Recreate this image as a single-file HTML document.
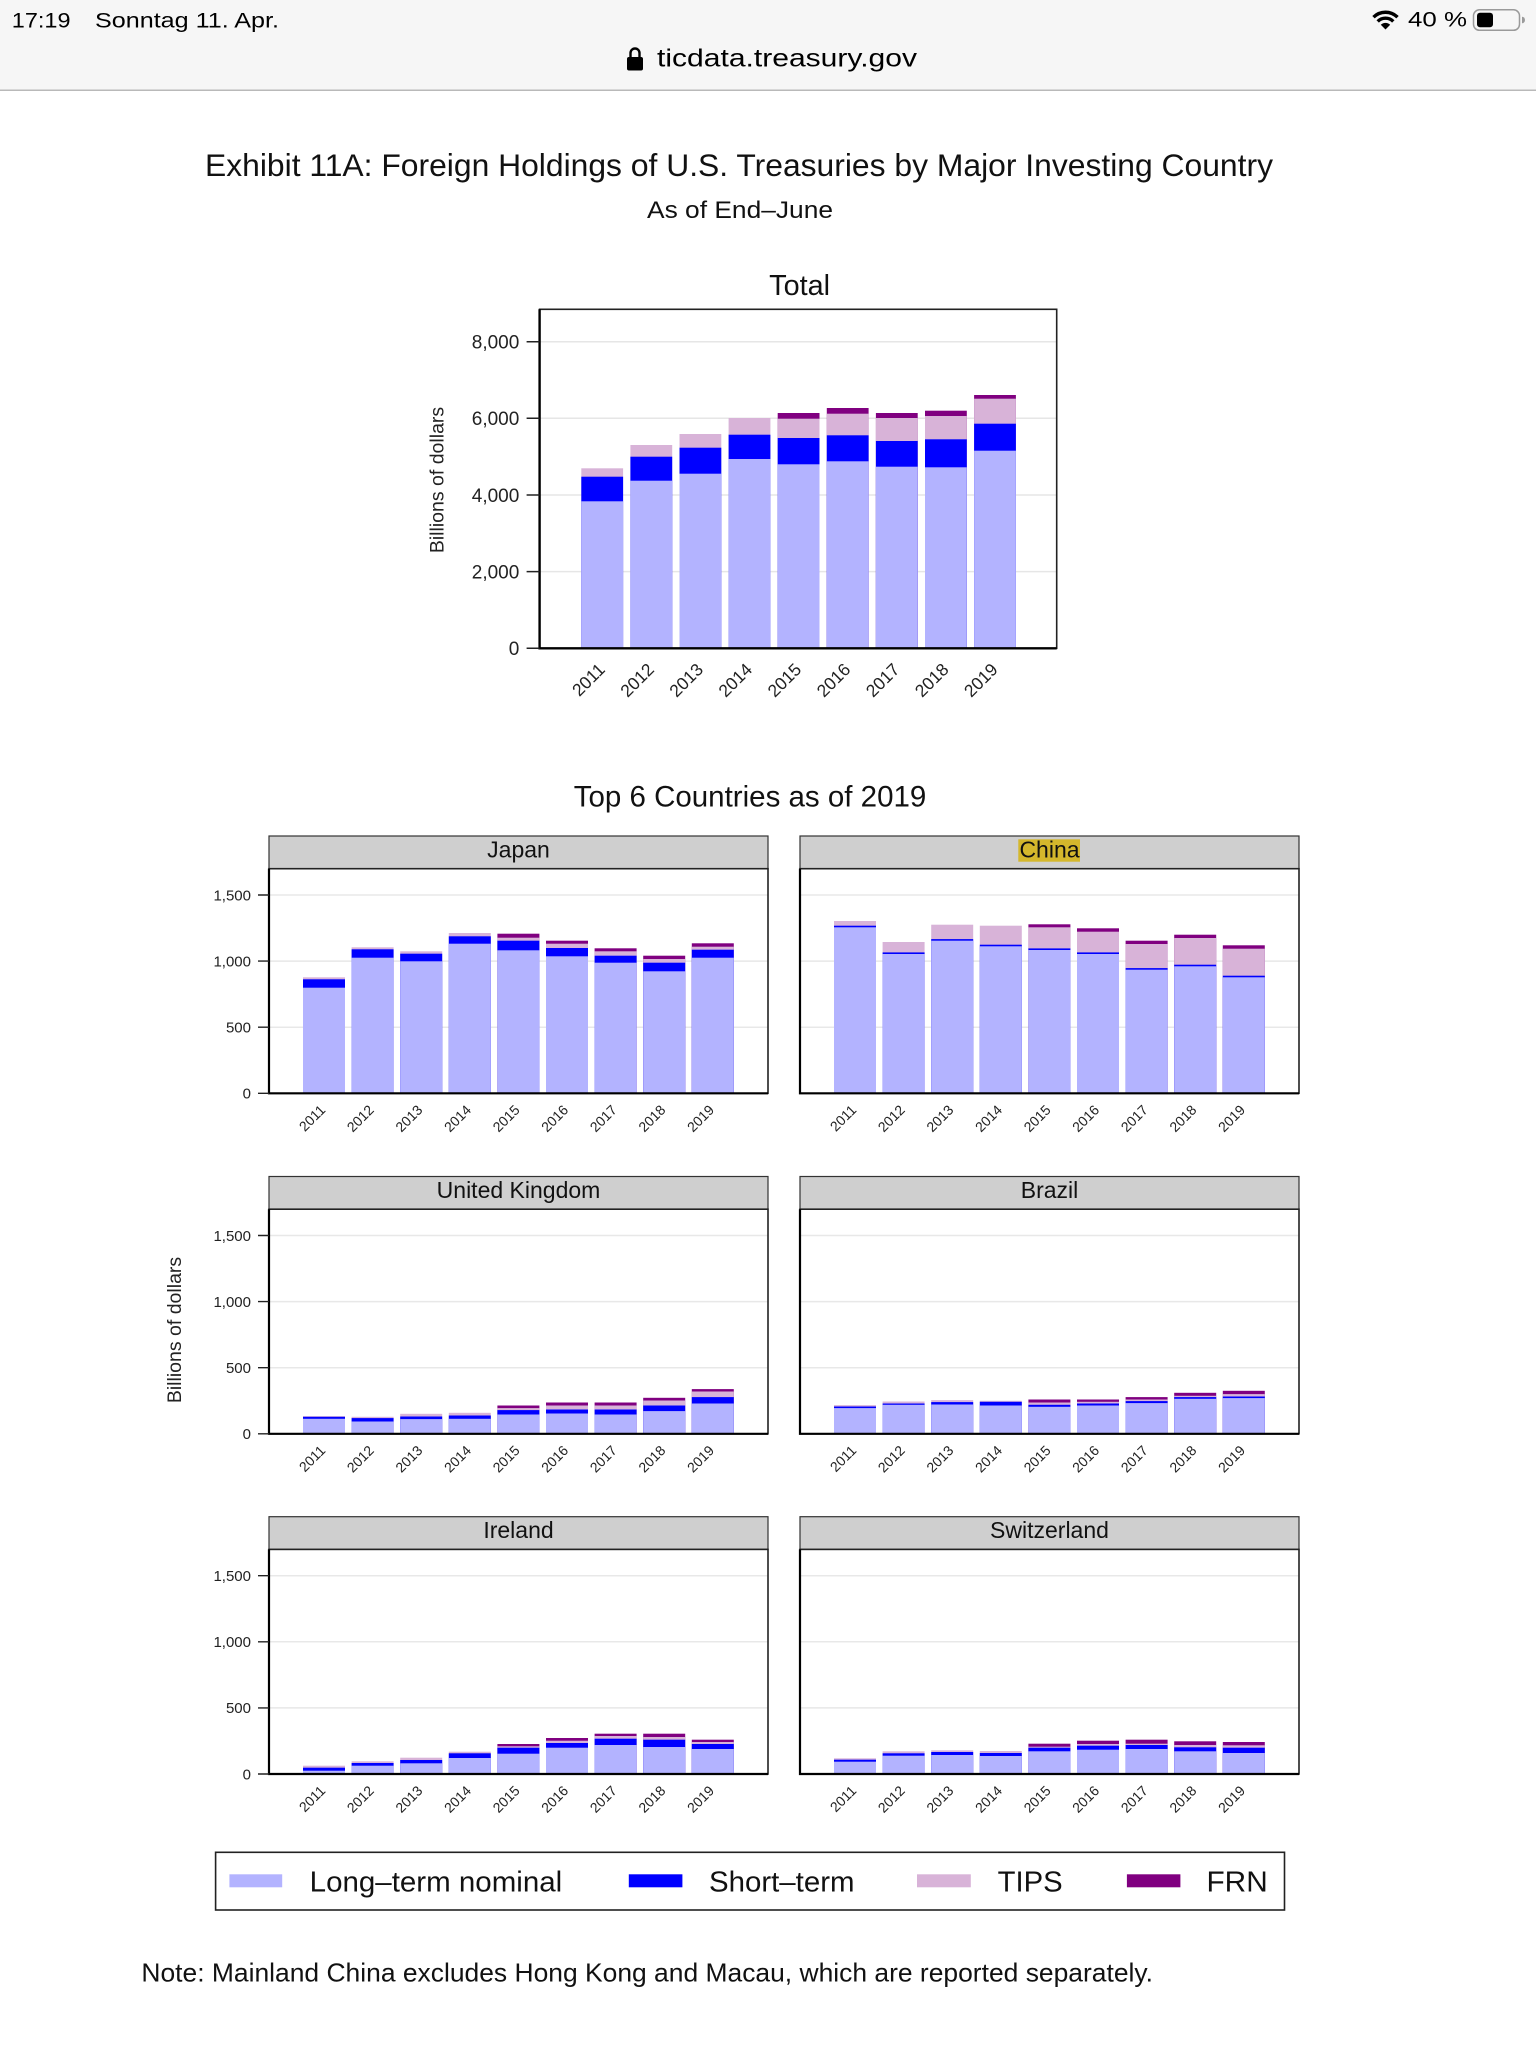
<!DOCTYPE html>
<html><head><meta charset="utf-8"><style>
html,body{margin:0;padding:0;background:#fff;}
svg{display:block;font-family:"Liberation Sans",Arial,sans-serif;}
.a{fill:#b3b3ff}.b{fill:#0000ff}.c{fill:#d8b3d8}.d{fill:#800080}
.xt text{font-size:14px;text-anchor:end;fill:#222}
.yt text{font-size:15px;text-anchor:end;fill:#222}
.st{font-size:23px;text-anchor:middle;fill:#111}
</style></head><body>
<svg width="1536" height="2048" viewBox="0 0 1536 2048" xmlns="http://www.w3.org/2000/svg">
<!-- status bar -->
<rect x="0" y="0" width="1536" height="90" fill="#f6f6f6"/>
<rect x="0" y="89.5" width="1536" height="1.5" fill="#b9b9b9"/>
<text x="11.8" y="27.3" font-size="21" fill="#000" textLength="58.7" lengthAdjust="spacingAndGlyphs">17:19</text>
<text x="95" y="27.3" font-size="21" fill="#000" textLength="184" lengthAdjust="spacingAndGlyphs">Sonntag 11. Apr.</text>
<path d="M1373.5 17.2 A17 17 0 0 1 1397.5 17.2" stroke="#000" stroke-width="3.4" fill="none"/>
<path d="M1377.7 21.4 A11 11 0 0 1 1393.3 21.4" stroke="#000" stroke-width="3.4" fill="none"/>
<path d="M1385.5 29.5 L1380.8 24.8 A6.6 6.6 0 0 1 1390.2 24.8 Z" fill="#000"/>
<text x="1408" y="26.7" font-size="21" fill="#000" textLength="59" lengthAdjust="spacingAndGlyphs">40 %</text>
<rect x="1473.5" y="9.8" width="46" height="20.5" rx="6" fill="none" stroke="#9a9a9a" stroke-width="1.5"/>
<rect x="1477" y="12.8" width="16" height="14.5" rx="3" fill="#000"/>
<path d="M1522 16.7 a3 3.3 0 0 1 0 6.6 z" fill="#9a9a9a"/>
<path d="M630.5 57.5 V53 a4.5 4.5 0 0 1 9 0 V57.5" stroke="#000" stroke-width="2.4" fill="none"/>
<rect x="627" y="57" width="16" height="13.5" rx="2" fill="#000"/>
<text x="657" y="66.7" font-size="25" fill="#000" textLength="260" lengthAdjust="spacingAndGlyphs">ticdata.treasury.gov</text>

<!-- titles -->
<text x="205" y="176" font-size="31.5" fill="#111" textLength="1068" lengthAdjust="spacingAndGlyphs">Exhibit 11A: Foreign Holdings of U.S. Treasuries by Major Investing Country</text>
<text x="647" y="218" font-size="24" fill="#111" textLength="186" lengthAdjust="spacingAndGlyphs">As of End–June</text>
<text x="799.6" y="295" font-size="28.8" fill="#111" text-anchor="middle">Total</text>

<!-- Total chart -->
<path d="M539.6 341.7H1056.7M539.6 418.3H1056.7M539.6 495H1056.7M539.6 571.6H1056.7" stroke="#e6e6e6" stroke-width="1.5"/>
<g transform="translate(0,648.3)">
<rect class="c" x="581.3" y="-180" width="41.8" height="180"/><rect class="b" x="581.3" y="-171.6" width="41.8" height="171.6"/><rect class="a" x="581.3" y="-147" width="41.8" height="147"/>
<rect class="c" x="630.4" y="-203.3" width="41.8" height="203.3"/><rect class="b" x="630.4" y="-191.6" width="41.8" height="191.6"/><rect class="a" x="630.4" y="-167.6" width="41.8" height="167.6"/>
<rect class="c" x="679.5" y="-214.3" width="41.8" height="214.3"/><rect class="b" x="679.5" y="-200.6" width="41.8" height="200.6"/><rect class="a" x="679.5" y="-174.6" width="41.8" height="174.6"/>
<rect class="c" x="728.6" y="-230.3" width="41.8" height="230.3"/><rect class="b" x="728.6" y="-213.6" width="41.8" height="213.6"/><rect class="a" x="728.6" y="-189.3" width="41.8" height="189.3"/>
<rect class="d" x="777.7" y="-235.3" width="41.8" height="235.3"/><rect class="c" x="777.7" y="-229.6" width="41.8" height="229.6"/><rect class="b" x="777.7" y="-210.3" width="41.8" height="210.3"/><rect class="a" x="777.7" y="-184" width="41.8" height="184"/>
<rect class="d" x="826.8" y="-240.3" width="41.8" height="240.3"/><rect class="c" x="826.8" y="-234.6" width="41.8" height="234.6"/><rect class="b" x="826.8" y="-213" width="41.8" height="213"/><rect class="a" x="826.8" y="-187" width="41.8" height="187"/>
<rect class="d" x="875.9" y="-235.3" width="41.8" height="235.3"/><rect class="c" x="875.9" y="-230.3" width="41.8" height="230.3"/><rect class="b" x="875.9" y="-207.3" width="41.8" height="207.3"/><rect class="a" x="875.9" y="-181.6" width="41.8" height="181.6"/>
<rect class="d" x="925" y="-237.6" width="41.8" height="237.6"/><rect class="c" x="925" y="-232.3" width="41.8" height="232.3"/><rect class="b" x="925" y="-209" width="41.8" height="209"/><rect class="a" x="925" y="-181" width="41.8" height="181"/>
<rect class="d" x="974.1" y="-253.3" width="41.8" height="253.3"/><rect class="c" x="974.1" y="-249.6" width="41.8" height="249.6"/><rect class="b" x="974.1" y="-224.6" width="41.8" height="224.6"/><rect class="a" x="974.1" y="-197.6" width="41.8" height="197.6"/>
</g>
<rect x="539.6" y="309.3" width="517.1" height="339" fill="none" stroke="#222" stroke-width="1.6"/>
<path d="M539.6 309.3V648.3H1056.7" stroke="#000" stroke-width="2.4" fill="none"/>
<path d="M526.6 341.7H539.6M526.6 418.3H539.6M526.6 495H539.6M526.6 571.6H539.6M526.6 648.3H539.6" stroke="#222" stroke-width="1.5"/>
<g font-size="19" text-anchor="end" fill="#222">
<text x="519.3" y="348.5">8,000</text><text x="519.3" y="425.1">6,000</text><text x="519.3" y="501.8">4,000</text><text x="519.3" y="578.4">2,000</text><text x="519.3" y="655.1">0</text>
</g>
<text transform="translate(443.4,480) rotate(-90)" font-size="19.5" text-anchor="middle" fill="#222">Billions of dollars</text>
<g font-size="17.5" text-anchor="end" fill="#222">
<text transform="translate(606,670.6) rotate(-45)">2011</text>
<text transform="translate(655.1,670.6) rotate(-45)">2012</text>
<text transform="translate(704.2,670.6) rotate(-45)">2013</text>
<text transform="translate(753.3,670.6) rotate(-45)">2014</text>
<text transform="translate(802.4,670.6) rotate(-45)">2015</text>
<text transform="translate(851.5,670.6) rotate(-45)">2016</text>
<text transform="translate(900.6,670.6) rotate(-45)">2017</text>
<text transform="translate(949.7,670.6) rotate(-45)">2018</text>
<text transform="translate(998.8,670.6) rotate(-45)">2019</text>
</g>

<text x="750" y="806.7" font-size="29.5" fill="#111" text-anchor="middle">Top 6 Countries as of 2019</text>
<text transform="translate(180.8,1330) rotate(-90)" font-size="19.5" text-anchor="middle" fill="#222">Billions of dollars</text>

<!-- Japan -->
<g transform="translate(269,1093.3)">
<rect x="0" y="-257.3" width="499" height="32.7" fill="#cfcfcf" stroke="#333" stroke-width="1.2"/>
<path d="M0 -66.1H499M0 -132.2H499M0 -198.3H499" stroke="#e8e8e8" stroke-width="1.5"/>
<rect class="c" x="34" y="-116" width="42" height="116"/><rect class="b" x="34" y="-114" width="42" height="114"/><rect class="a" x="34" y="-105.6" width="42" height="105.6"/>
<rect class="c" x="82.6" y="-146" width="42" height="146"/><rect class="b" x="82.6" y="-144" width="42" height="144"/><rect class="a" x="82.6" y="-135.6" width="42" height="135.6"/>
<rect class="c" x="131.2" y="-142" width="42" height="142"/><rect class="b" x="131.2" y="-139.6" width="42" height="139.6"/><rect class="a" x="131.2" y="-132" width="42" height="132"/>
<rect class="c" x="179.8" y="-160.3" width="42" height="160.3"/><rect class="b" x="179.8" y="-157" width="42" height="157"/><rect class="a" x="179.8" y="-149.6" width="42" height="149.6"/>
<rect class="d" x="228.4" y="-159.6" width="42" height="159.6"/><rect class="c" x="228.4" y="-155.6" width="42" height="155.6"/><rect class="b" x="228.4" y="-152.6" width="42" height="152.6"/><rect class="a" x="228.4" y="-143" width="42" height="143"/>
<rect class="d" x="277" y="-152.6" width="42" height="152.6"/><rect class="c" x="277" y="-149.6" width="42" height="149.6"/><rect class="b" x="277" y="-145.3" width="42" height="145.3"/><rect class="a" x="277" y="-137" width="42" height="137"/>
<rect class="d" x="325.6" y="-145" width="42" height="145"/><rect class="c" x="325.6" y="-142" width="42" height="142"/><rect class="b" x="325.6" y="-137.6" width="42" height="137.6"/><rect class="a" x="325.6" y="-130.6" width="42" height="130.6"/>
<rect class="d" x="374.2" y="-137.6" width="42" height="137.6"/><rect class="c" x="374.2" y="-134.3" width="42" height="134.3"/><rect class="b" x="374.2" y="-130.6" width="42" height="130.6"/><rect class="a" x="374.2" y="-122" width="42" height="122"/>
<rect class="d" x="422.8" y="-150" width="42" height="150"/><rect class="c" x="422.8" y="-146.6" width="42" height="146.6"/><rect class="b" x="422.8" y="-143.6" width="42" height="143.6"/><rect class="a" x="422.8" y="-135.6" width="42" height="135.6"/>
<rect x="0" y="-224.6" width="499" height="224.6" fill="none" stroke="#222" stroke-width="1.6"/>
<path d="M0 -224.6V0H499" stroke="#000" stroke-width="2.2" fill="none"/>
<path d="M-11 0H0M-11 -66.1H0M-11 -132.2H0M-11 -198.3H0" stroke="#222" stroke-width="1.4"/>
<g class="yt"><text x="-18" y="5.3">0</text><text x="-18" y="-60.8">500</text><text x="-18" y="-126.9">1,000</text><text x="-18" y="-193">1,500</text></g>
<text class="st" x="249.5" y="-236">Japan</text>
<g class="xt">
<text transform="translate(57.2,17.6) rotate(-45)">2011</text><text transform="translate(105.8,17.6) rotate(-45)">2012</text><text transform="translate(154.4,17.6) rotate(-45)">2013</text><text transform="translate(203,17.6) rotate(-45)">2014</text><text transform="translate(251.6,17.6) rotate(-45)">2015</text><text transform="translate(300.2,17.6) rotate(-45)">2016</text><text transform="translate(348.8,17.6) rotate(-45)">2017</text><text transform="translate(397.4,17.6) rotate(-45)">2018</text><text transform="translate(446,17.6) rotate(-45)">2019</text>
</g>
</g>

<!-- China -->
<g transform="translate(800,1093.3)">
<rect x="0" y="-257.3" width="499" height="32.7" fill="#cfcfcf" stroke="#333" stroke-width="1.2"/>
<path d="M0 -66.1H499M0 -132.2H499M0 -198.3H499" stroke="#e8e8e8" stroke-width="1.5"/>
<rect class="c" x="34" y="-172.3" width="42" height="172.3"/><rect class="b" x="34" y="-167.6" width="42" height="167.6"/><rect class="a" x="34" y="-166" width="42" height="166"/>
<rect class="c" x="82.6" y="-151.3" width="42" height="151.3"/><rect class="b" x="82.6" y="-140.9" width="42" height="140.9"/><rect class="a" x="82.6" y="-139.3" width="42" height="139.3"/>
<rect class="c" x="131.2" y="-168.6" width="42" height="168.6"/><rect class="b" x="131.2" y="-154.2" width="42" height="154.2"/><rect class="a" x="131.2" y="-152.6" width="42" height="152.6"/>
<rect class="c" x="179.8" y="-167.6" width="42" height="167.6"/><rect class="b" x="179.8" y="-148.6" width="42" height="148.6"/><rect class="a" x="179.8" y="-147" width="42" height="147"/>
<rect class="d" x="228.4" y="-169" width="42" height="169"/><rect class="c" x="228.4" y="-166" width="42" height="166"/><rect class="b" x="228.4" y="-144.9" width="42" height="144.9"/><rect class="a" x="228.4" y="-143.3" width="42" height="143.3"/>
<rect class="d" x="277" y="-165" width="42" height="165"/><rect class="c" x="277" y="-161.6" width="42" height="161.6"/><rect class="b" x="277" y="-140.9" width="42" height="140.9"/><rect class="a" x="277" y="-139.3" width="42" height="139.3"/>
<rect class="d" x="325.6" y="-152.6" width="42" height="152.6"/><rect class="c" x="325.6" y="-149.3" width="42" height="149.3"/><rect class="b" x="325.6" y="-125.2" width="42" height="125.2"/><rect class="a" x="325.6" y="-123.6" width="42" height="123.6"/>
<rect class="d" x="374.2" y="-158.6" width="42" height="158.6"/><rect class="c" x="374.2" y="-155.3" width="42" height="155.3"/><rect class="b" x="374.2" y="-128.6" width="42" height="128.6"/><rect class="a" x="374.2" y="-127" width="42" height="127"/>
<rect class="d" x="422.8" y="-148" width="42" height="148"/><rect class="c" x="422.8" y="-144.6" width="42" height="144.6"/><rect class="b" x="422.8" y="-117.6" width="42" height="117.6"/><rect class="a" x="422.8" y="-116" width="42" height="116"/>
<rect x="0" y="-224.6" width="499" height="224.6" fill="none" stroke="#222" stroke-width="1.6"/>
<path d="M0 -224.6V0H499" stroke="#000" stroke-width="2.2" fill="none"/>
<rect x="218.3" y="-254" width="61.7" height="22.4" fill="#d4b72c"/>
<text class="st" x="249.5" y="-236">China</text>
<g class="xt">
<text transform="translate(57.2,17.6) rotate(-45)">2011</text><text transform="translate(105.8,17.6) rotate(-45)">2012</text><text transform="translate(154.4,17.6) rotate(-45)">2013</text><text transform="translate(203,17.6) rotate(-45)">2014</text><text transform="translate(251.6,17.6) rotate(-45)">2015</text><text transform="translate(300.2,17.6) rotate(-45)">2016</text><text transform="translate(348.8,17.6) rotate(-45)">2017</text><text transform="translate(397.4,17.6) rotate(-45)">2018</text><text transform="translate(446,17.6) rotate(-45)">2019</text>
</g>
</g>

<!-- United Kingdom -->
<g transform="translate(269,1433.8)">
<rect x="0" y="-257.3" width="499" height="32.7" fill="#cfcfcf" stroke="#333" stroke-width="1.2"/>
<path d="M0 -66.1H499M0 -132.2H499M0 -198.3H499" stroke="#e8e8e8" stroke-width="1.5"/>
<rect class="c" x="34" y="-17.7" width="42" height="17.7"/><rect class="b" x="34" y="-17" width="42" height="17"/><rect class="a" x="34" y="-15" width="42" height="15"/>
<rect class="c" x="82.6" y="-17" width="42" height="17"/><rect class="b" x="82.6" y="-15.7" width="42" height="15.7"/><rect class="a" x="82.6" y="-12.3" width="42" height="12.3"/>
<rect class="c" x="131.2" y="-20" width="42" height="20"/><rect class="b" x="131.2" y="-17.3" width="42" height="17.3"/><rect class="a" x="131.2" y="-14.7" width="42" height="14.7"/>
<rect class="c" x="179.8" y="-21" width="42" height="21"/><rect class="b" x="179.8" y="-18.3" width="42" height="18.3"/><rect class="a" x="179.8" y="-15" width="42" height="15"/>
<rect class="d" x="228.4" y="-28.3" width="42" height="28.3"/><rect class="c" x="228.4" y="-25.7" width="42" height="25.7"/><rect class="b" x="228.4" y="-23.7" width="42" height="23.7"/><rect class="a" x="228.4" y="-19.3" width="42" height="19.3"/>
<rect class="d" x="277" y="-31.3" width="42" height="31.3"/><rect class="c" x="277" y="-28.3" width="42" height="28.3"/><rect class="b" x="277" y="-24.3" width="42" height="24.3"/><rect class="a" x="277" y="-20.3" width="42" height="20.3"/>
<rect class="d" x="325.6" y="-31.3" width="42" height="31.3"/><rect class="c" x="325.6" y="-28.3" width="42" height="28.3"/><rect class="b" x="325.6" y="-24.3" width="42" height="24.3"/><rect class="a" x="325.6" y="-19.3" width="42" height="19.3"/>
<rect class="d" x="374.2" y="-36" width="42" height="36"/><rect class="c" x="374.2" y="-33.3" width="42" height="33.3"/><rect class="b" x="374.2" y="-28.3" width="42" height="28.3"/><rect class="a" x="374.2" y="-22.7" width="42" height="22.7"/>
<rect class="d" x="422.8" y="-44.7" width="42" height="44.7"/><rect class="c" x="422.8" y="-42.3" width="42" height="42.3"/><rect class="b" x="422.8" y="-36.7" width="42" height="36.7"/><rect class="a" x="422.8" y="-30.3" width="42" height="30.3"/>
<rect x="0" y="-224.6" width="499" height="224.6" fill="none" stroke="#222" stroke-width="1.6"/>
<path d="M0 -224.6V0H499" stroke="#000" stroke-width="2.2" fill="none"/>
<path d="M-11 0H0M-11 -66.1H0M-11 -132.2H0M-11 -198.3H0" stroke="#222" stroke-width="1.4"/>
<g class="yt"><text x="-18" y="5.3">0</text><text x="-18" y="-60.8">500</text><text x="-18" y="-126.9">1,000</text><text x="-18" y="-193">1,500</text></g>
<text class="st" x="249.5" y="-236">United Kingdom</text>
<g class="xt">
<text transform="translate(57.2,17.6) rotate(-45)">2011</text><text transform="translate(105.8,17.6) rotate(-45)">2012</text><text transform="translate(154.4,17.6) rotate(-45)">2013</text><text transform="translate(203,17.6) rotate(-45)">2014</text><text transform="translate(251.6,17.6) rotate(-45)">2015</text><text transform="translate(300.2,17.6) rotate(-45)">2016</text><text transform="translate(348.8,17.6) rotate(-45)">2017</text><text transform="translate(397.4,17.6) rotate(-45)">2018</text><text transform="translate(446,17.6) rotate(-45)">2019</text>
</g>
</g>

<!-- Brazil -->
<g transform="translate(800,1433.8)">
<rect x="0" y="-257.3" width="499" height="32.7" fill="#cfcfcf" stroke="#333" stroke-width="1.2"/>
<path d="M0 -66.1H499M0 -132.2H499M0 -198.3H499" stroke="#e8e8e8" stroke-width="1.5"/>
<rect class="c" x="34" y="-28.7" width="42" height="28.7"/><rect class="b" x="34" y="-27.3" width="42" height="27.3"/><rect class="a" x="34" y="-25.7" width="42" height="25.7"/>
<rect class="c" x="82.6" y="-32.3" width="42" height="32.3"/><rect class="b" x="82.6" y="-30.3" width="42" height="30.3"/><rect class="a" x="82.6" y="-29" width="42" height="29"/>
<rect class="c" x="131.2" y="-33.7" width="42" height="33.7"/><rect class="b" x="131.2" y="-31.7" width="42" height="31.7"/><rect class="a" x="131.2" y="-29.3" width="42" height="29.3"/>
<rect class="c" x="179.8" y="-33" width="42" height="33"/><rect class="b" x="179.8" y="-32" width="42" height="32"/><rect class="a" x="179.8" y="-28.3" width="42" height="28.3"/>
<rect class="d" x="228.4" y="-34.3" width="42" height="34.3"/><rect class="c" x="228.4" y="-31.3" width="42" height="31.3"/><rect class="b" x="228.4" y="-29" width="42" height="29"/><rect class="a" x="228.4" y="-27" width="42" height="27"/>
<rect class="d" x="277" y="-34.3" width="42" height="34.3"/><rect class="c" x="277" y="-32" width="42" height="32"/><rect class="b" x="277" y="-30.3" width="42" height="30.3"/><rect class="a" x="277" y="-28.3" width="42" height="28.3"/>
<rect class="d" x="325.6" y="-36.7" width="42" height="36.7"/><rect class="c" x="325.6" y="-34.3" width="42" height="34.3"/><rect class="b" x="325.6" y="-32.7" width="42" height="32.7"/><rect class="a" x="325.6" y="-30.7" width="42" height="30.7"/>
<rect class="d" x="374.2" y="-41" width="42" height="41"/><rect class="c" x="374.2" y="-38" width="42" height="38"/><rect class="b" x="374.2" y="-36.7" width="42" height="36.7"/><rect class="a" x="374.2" y="-35" width="42" height="35"/>
<rect class="d" x="422.8" y="-43" width="42" height="43"/><rect class="c" x="422.8" y="-39.7" width="42" height="39.7"/><rect class="b" x="422.8" y="-37.3" width="42" height="37.3"/><rect class="a" x="422.8" y="-35.7" width="42" height="35.7"/>
<rect x="0" y="-224.6" width="499" height="224.6" fill="none" stroke="#222" stroke-width="1.6"/>
<path d="M0 -224.6V0H499" stroke="#000" stroke-width="2.2" fill="none"/>
<text class="st" x="249.5" y="-236">Brazil</text>
<g class="xt">
<text transform="translate(57.2,17.6) rotate(-45)">2011</text><text transform="translate(105.8,17.6) rotate(-45)">2012</text><text transform="translate(154.4,17.6) rotate(-45)">2013</text><text transform="translate(203,17.6) rotate(-45)">2014</text><text transform="translate(251.6,17.6) rotate(-45)">2015</text><text transform="translate(300.2,17.6) rotate(-45)">2016</text><text transform="translate(348.8,17.6) rotate(-45)">2017</text><text transform="translate(397.4,17.6) rotate(-45)">2018</text><text transform="translate(446,17.6) rotate(-45)">2019</text>
</g>
</g>

<!-- Ireland -->
<g transform="translate(269,1774)">
<rect x="0" y="-257.3" width="499" height="32.7" fill="#cfcfcf" stroke="#333" stroke-width="1.2"/>
<path d="M0 -66.1H499M0 -132.2H499M0 -198.3H499" stroke="#e8e8e8" stroke-width="1.5"/>
<rect class="c" x="34" y="-8.3" width="42" height="8.3"/><rect class="b" x="34" y="-6.3" width="42" height="6.3"/><rect class="a" x="34" y="-3.3" width="42" height="3.3"/>
<rect class="c" x="82.6" y="-12.7" width="42" height="12.7"/><rect class="b" x="82.6" y="-11" width="42" height="11"/><rect class="a" x="82.6" y="-8.3" width="42" height="8.3"/>
<rect class="c" x="131.2" y="-16.3" width="42" height="16.3"/><rect class="b" x="131.2" y="-14" width="42" height="14"/><rect class="a" x="131.2" y="-10.7" width="42" height="10.7"/>
<rect class="c" x="179.8" y="-22.3" width="42" height="22.3"/><rect class="b" x="179.8" y="-20.7" width="42" height="20.7"/><rect class="a" x="179.8" y="-16" width="42" height="16"/>
<rect class="d" x="228.4" y="-30" width="42" height="30"/><rect class="c" x="228.4" y="-27.7" width="42" height="27.7"/><rect class="b" x="228.4" y="-26.3" width="42" height="26.3"/><rect class="a" x="228.4" y="-20.3" width="42" height="20.3"/>
<rect class="d" x="277" y="-36" width="42" height="36"/><rect class="c" x="277" y="-33.3" width="42" height="33.3"/><rect class="b" x="277" y="-31" width="42" height="31"/><rect class="a" x="277" y="-26.3" width="42" height="26.3"/>
<rect class="d" x="325.6" y="-40.3" width="42" height="40.3"/><rect class="c" x="325.6" y="-38" width="42" height="38"/><rect class="b" x="325.6" y="-35.3" width="42" height="35.3"/><rect class="a" x="325.6" y="-29" width="42" height="29"/>
<rect class="d" x="374.2" y="-40.3" width="42" height="40.3"/><rect class="c" x="374.2" y="-37" width="42" height="37"/><rect class="b" x="374.2" y="-34.3" width="42" height="34.3"/><rect class="a" x="374.2" y="-27" width="42" height="27"/>
<rect class="d" x="422.8" y="-34.3" width="42" height="34.3"/><rect class="c" x="422.8" y="-32" width="42" height="32"/><rect class="b" x="422.8" y="-30" width="42" height="30"/><rect class="a" x="422.8" y="-25" width="42" height="25"/>
<rect x="0" y="-224.6" width="499" height="224.6" fill="none" stroke="#222" stroke-width="1.6"/>
<path d="M0 -224.6V0H499" stroke="#000" stroke-width="2.2" fill="none"/>
<path d="M-11 0H0M-11 -66.1H0M-11 -132.2H0M-11 -198.3H0" stroke="#222" stroke-width="1.4"/>
<g class="yt"><text x="-18" y="5.3">0</text><text x="-18" y="-60.8">500</text><text x="-18" y="-126.9">1,000</text><text x="-18" y="-193">1,500</text></g>
<text class="st" x="249.5" y="-236">Ireland</text>
<g class="xt">
<text transform="translate(57.2,17.6) rotate(-45)">2011</text><text transform="translate(105.8,17.6) rotate(-45)">2012</text><text transform="translate(154.4,17.6) rotate(-45)">2013</text><text transform="translate(203,17.6) rotate(-45)">2014</text><text transform="translate(251.6,17.6) rotate(-45)">2015</text><text transform="translate(300.2,17.6) rotate(-45)">2016</text><text transform="translate(348.8,17.6) rotate(-45)">2017</text><text transform="translate(397.4,17.6) rotate(-45)">2018</text><text transform="translate(446,17.6) rotate(-45)">2019</text>
</g>
</g>

<!-- Switzerland -->
<g transform="translate(800,1774)">
<rect x="0" y="-257.3" width="499" height="32.7" fill="#cfcfcf" stroke="#333" stroke-width="1.2"/>
<path d="M0 -66.1H499M0 -132.2H499M0 -198.3H499" stroke="#e8e8e8" stroke-width="1.5"/>
<rect class="c" x="34" y="-15.7" width="42" height="15.7"/><rect class="b" x="34" y="-14.3" width="42" height="14.3"/><rect class="a" x="34" y="-12.3" width="42" height="12.3"/>
<rect class="c" x="82.6" y="-22.7" width="42" height="22.7"/><rect class="b" x="82.6" y="-20.7" width="42" height="20.7"/><rect class="a" x="82.6" y="-18.3" width="42" height="18.3"/>
<rect class="c" x="131.2" y="-23.7" width="42" height="23.7"/><rect class="b" x="131.2" y="-22" width="42" height="22"/><rect class="a" x="131.2" y="-19" width="42" height="19"/>
<rect class="c" x="179.8" y="-23" width="42" height="23"/><rect class="b" x="179.8" y="-21" width="42" height="21"/><rect class="a" x="179.8" y="-18" width="42" height="18"/>
<rect class="d" x="228.4" y="-30.3" width="42" height="30.3"/><rect class="c" x="228.4" y="-27.3" width="42" height="27.3"/><rect class="b" x="228.4" y="-26.3" width="42" height="26.3"/><rect class="a" x="228.4" y="-22.7" width="42" height="22.7"/>
<rect class="d" x="277" y="-33.3" width="42" height="33.3"/><rect class="c" x="277" y="-30" width="42" height="30"/><rect class="b" x="277" y="-28.3" width="42" height="28.3"/><rect class="a" x="277" y="-24.3" width="42" height="24.3"/>
<rect class="d" x="325.6" y="-34.3" width="42" height="34.3"/><rect class="c" x="325.6" y="-30.3" width="42" height="30.3"/><rect class="b" x="325.6" y="-29" width="42" height="29"/><rect class="a" x="325.6" y="-25" width="42" height="25"/>
<rect class="d" x="374.2" y="-32.7" width="42" height="32.7"/><rect class="c" x="374.2" y="-29" width="42" height="29"/><rect class="b" x="374.2" y="-26.7" width="42" height="26.7"/><rect class="a" x="374.2" y="-22.7" width="42" height="22.7"/>
<rect class="d" x="422.8" y="-32" width="42" height="32"/><rect class="c" x="422.8" y="-28.7" width="42" height="28.7"/><rect class="b" x="422.8" y="-26.3" width="42" height="26.3"/><rect class="a" x="422.8" y="-21" width="42" height="21"/>
<rect x="0" y="-224.6" width="499" height="224.6" fill="none" stroke="#222" stroke-width="1.6"/>
<path d="M0 -224.6V0H499" stroke="#000" stroke-width="2.2" fill="none"/>
<text class="st" x="249.5" y="-236">Switzerland</text>
<g class="xt">
<text transform="translate(57.2,17.6) rotate(-45)">2011</text><text transform="translate(105.8,17.6) rotate(-45)">2012</text><text transform="translate(154.4,17.6) rotate(-45)">2013</text><text transform="translate(203,17.6) rotate(-45)">2014</text><text transform="translate(251.6,17.6) rotate(-45)">2015</text><text transform="translate(300.2,17.6) rotate(-45)">2016</text><text transform="translate(348.8,17.6) rotate(-45)">2017</text><text transform="translate(397.4,17.6) rotate(-45)">2018</text><text transform="translate(446,17.6) rotate(-45)">2019</text>
</g>
</g>

<!-- legend -->
<rect x="215.6" y="1852.3" width="1068.9" height="57.7" fill="#fff" stroke="#222" stroke-width="1.6"/>
<rect class="a" x="229.4" y="1874.3" width="52.8" height="13"/>
<rect class="b" x="628.8" y="1874.3" width="53.6" height="13"/>
<rect class="c" x="917" y="1874.3" width="53.8" height="13"/>
<rect class="d" x="1126.9" y="1874.3" width="53.5" height="13"/>
<g font-size="29" fill="#111">
<text x="309.7" y="1891.7" textLength="252.5" lengthAdjust="spacingAndGlyphs">Long–term nominal</text>
<text x="709" y="1891.7" textLength="145.5" lengthAdjust="spacingAndGlyphs">Short–term</text>
<text x="997.6" y="1891.7" textLength="65" lengthAdjust="spacingAndGlyphs">TIPS</text>
<text x="1206.5" y="1891.7" textLength="61.2" lengthAdjust="spacingAndGlyphs">FRN</text>
</g>

<text x="141.4" y="1981.7" font-size="26" fill="#111" textLength="1011.6" lengthAdjust="spacingAndGlyphs">Note: Mainland China excludes Hong Kong and Macau, which are reported separately.</text>
</svg>
</body></html>
